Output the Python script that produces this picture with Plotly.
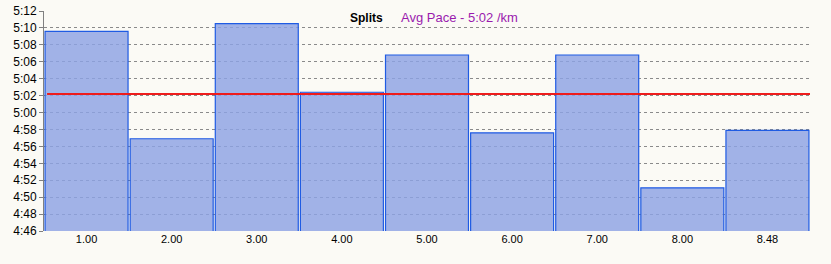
import plotly.graph_objects as go

categories = ["1.00", "2.00", "3.00", "4.00", "5.00", "6.00", "7.00", "8.00", "8.48"]
pace_sec = [309.6, 296.9, 310.5, 302.4, 306.8, 297.6, 306.8, 291.1, 297.9]
avg_pace = 302.2
tick_vals = list(range(286, 313, 2))
tick_text = [f"{v // 60}:{v % 60:02d}" for v in tick_vals]

bg = "#FBFAF5"
fig = go.Figure()
fig.add_trace(go.Bar(
    x=categories, y=pace_sec,
    marker=dict(color="rgba(140,162,228,0.82)", line=dict(color="#1F5BE3", width=1.2)),
    hoverinfo="skip",
))
fig.add_shape(type="line", xref="paper", yref="y", x0=0.004, x1=1, y0=avg_pace, y1=avg_pace,
              line=dict(color="#EE1C1C", width=2), layer="above")
fig.add_annotation(xref="paper", yref="paper", x=(385 - 44) / 766, y=0.97, xanchor="right", yanchor="middle",
                   text="<b>Splits</b>", showarrow=False, font=dict(size=12, color="#000000", family="Liberation Sans"))
fig.add_annotation(xref="paper", yref="paper", x=(399 - 44) / 766, y=0.97, xanchor="left", yanchor="middle",
                   text="Avg Pace - 5:02 /km", showarrow=False, font=dict(size=13, color="#9A1AAE", family="Liberation Sans"))
fig.update_layout(
    width=831, height=264,
    margin=dict(l=44, r=21, t=11, b=33, autoexpand=False),
    paper_bgcolor=bg, plot_bgcolor=bg,
    bargap=0.025, showlegend=False,
    font=dict(family="Liberation Sans", size=11, color="#000000"),
)
fig.update_yaxes(range=[286, 312], tickvals=tick_vals, ticktext=tick_text, automargin=False,
                 showgrid=True, gridcolor="#8A8A8A", griddash="dot", gridwidth=1,
                 showline=True, linecolor="#808080", linewidth=1,
                 ticks="outside", ticklen=4, tickcolor="#808080", zeroline=False,
                 tickfont=dict(size=12, family="Liberation Sans"))
fig.update_xaxes(showgrid=False, showline=False, ticks="", automargin=False,
                 tickfont=dict(size=11, family="Liberation Sans"))
fig.write_html("out.html")
